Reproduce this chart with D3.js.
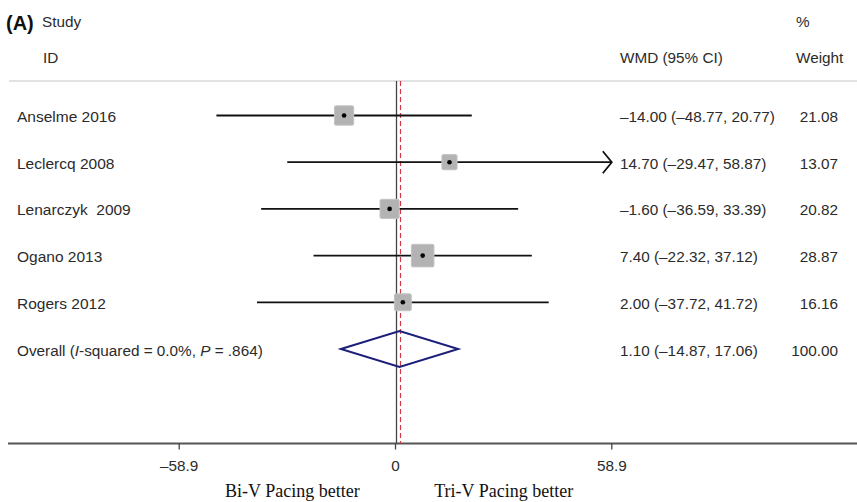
<!DOCTYPE html>
<html>
<head>
<meta charset="utf-8">
<script src="https://cdn.jsdelivr.net/npm/d3@7"></script>
<style>
  body { margin: 0; background: #fff; }
  svg text { font-family: "Liberation Sans", Arial, sans-serif; fill: #2b2b2b; }
</style>
</head>
<body>
<div id="chart"></div>
<script>
// study rows
var studies = ["Anselme 2016", "Leclercq 2008", "Lenarczyk  2009", "Ogano 2013", "Rogers 2012"];
var wmd = [-14.00, 14.70, -1.60, 7.40, 2.00];
var ciLow = [-48.77, -29.47, -36.59, -22.32, -37.72];
var ciHigh = [20.77, 58.87, 33.39, 37.12, 41.72];
var weights = [21.08, 13.07, 20.82, 28.87, 16.16];

// pooled estimate
var overallWmd = 1.10, overallLow = -14.87, overallHigh = 17.06, overallWeight = 100.00;

var tickValues = [-58.9, 0, 58.9];
var sideLabels = ["Bi-V Pacing better", "Tri-V Pacing better"];

var width = 857, height = 502;

var svg = d3.select("#chart").append("svg")
  .attr("width", width)
  .attr("height", height);

var x = d3.scaleLinear().domain([-58.9, 58.9]).range([179.2, 611.8]);
var y = d3.scaleLinear().domain([0, 5]).range([115.5, 349]);
var side = d3.scaleSqrt().domain([0, 100]).range([0, 42]);

var fmt = function (v) { return d3.format(".2f")(v).replace("\u2212", "\u2013"); };

// header
svg.append("text").attr("x", 6).attr("y", 29.5).style("font-size", "20px")
  .style("font-weight", "bold").style("fill", "#111").text("(A)");
svg.append("text").attr("x", 42).attr("y", 27).style("font-size", "15.3px").text("Study");
svg.append("text").attr("x", 43).attr("y", 62.5).style("font-size", "15.3px").text("ID");
svg.append("text").attr("x", 620).attr("y", 62.5).style("font-size", "15.3px").text("WMD (95% CI)");
svg.append("text").attr("x", 796).attr("y", 27).style("font-size", "15.3px").text("%");
svg.append("text").attr("x", 796).attr("y", 62.5).style("font-size", "15.3px").text("Weight");

// top rule and axis line
svg.append("line").attr("x1", 9).attr("x2", width).attr("y1", 81).attr("y2", 81)
  .attr("stroke", "#d8d8d8").attr("stroke-width", 1.5);

var axisY = 443.5;
svg.append("line").attr("x1", 8).attr("x2", width).attr("y1", axisY).attr("y2", axisY)
  .attr("stroke", "#555").attr("stroke-width", 2);

// reference lines
var x0 = Math.round(x(0)) + 0.5, xo = Math.round(x(overallWmd)) + 0.5;
svg.append("line").attr("x1", x0).attr("x2", x0).attr("y1", 81).attr("y2", axisY)
  .attr("stroke", "#444").attr("stroke-width", 1.3);
svg.append("line").attr("x1", xo).attr("x2", xo).attr("y1", 81).attr("y2", axisY)
  .attr("stroke", "#d03a48").attr("stroke-width", 1.2).attr("stroke-dasharray", "5,3");

// ticks
var ticks = svg.append("g");
ticks.selectAll("line").data(tickValues).enter().append("line")
  .attr("x1", function (d) { return x(d); })
  .attr("x2", function (d) { return x(d); })
  .attr("y1", axisY).attr("y2", axisY + 6)
  .attr("stroke", "#444").attr("stroke-width", 1.3);
ticks.selectAll("text").data(tickValues).enter().append("text")
  .attr("x", function (d) { return x(d); })
  .attr("y", 470.5)
  .attr("text-anchor", "middle")
  .style("font-size", "15.3px")
  .text(function (d) { return d === 0 ? "0" : fmt(d).replace(/0$/, ""); });

svg.selectAll(".side").data(sideLabels).enter().append("text")
  .attr("class", "side")
  .attr("x", function (d, i) { return i === 0 ? x(-29.45) + 5 : x(29.45); })
  .attr("y", 497)
  .attr("text-anchor", "middle")
  .style("font-family", "'Liberation Serif', 'Times New Roman', serif")
  .style("font-size", "18px")
  .style("fill", "#111")
  .text(function (d) { return d; });

// study rows
var rows = svg.selectAll(".row").data(studies).enter().append("g").attr("class", "row");

rows.append("text")
  .attr("x", 17).attr("y", function (d, i) { return y(i) + 6.5; })
  .style("font-size", "15.5px").style("white-space", "pre")
  .text(function (d) { return d; });

rows.append("line")
  .attr("x1", function (d, i) { return x(ciLow[i]); })
  .attr("x2", function (d, i) { return x(ciHigh[i]); })
  .attr("y1", function (d, i) { return y(i); })
  .attr("y2", function (d, i) { return y(i); })
  .attr("stroke", "#111").attr("stroke-width", 1.8);

// arrow where the interval reaches the axis edge
rows.filter(function (d, i) { return ciHigh[i] >= 58.8; })
  .append("path")
  .attr("d", function (d) {
    var i = studies.indexOf(d), xe = x(58.9), yy = y(i);
    return "M" + (xe - 9) + "," + (yy - 11) + "L" + xe + "," + yy + "L" + (xe - 9) + "," + (yy + 11);
  })
  .attr("fill", "none").attr("stroke", "#111").attr("stroke-width", 1.8);

rows.append("rect")
  .attr("x", function (d, i) { return x(wmd[i]) - side(weights[i]) / 2; })
  .attr("y", function (d, i) { return y(i) - side(weights[i]) / 2; })
  .attr("width", function (d, i) { return side(weights[i]); })
  .attr("height", function (d, i) { return side(weights[i]); })
  .attr("rx", 1.5)
  .attr("fill", "#b3b3b3").attr("stroke", "#c4c4c4").attr("stroke-width", 1);

rows.append("circle")
  .attr("cx", function (d, i) { return x(wmd[i]); })
  .attr("cy", function (d, i) { return y(i); })
  .attr("r", 2.3).attr("fill", "#000");

rows.append("text")
  .attr("x", 620).attr("y", function (d, i) { return y(i) + 6.5; })
  .style("font-size", "15.3px")
  .text(function (d, i) { return fmt(wmd[i]) + " (" + fmt(ciLow[i]) + ", " + fmt(ciHigh[i]) + ")"; });

rows.append("text")
  .attr("x", 838).attr("y", function (d, i) { return y(i) + 6.5; })
  .attr("text-anchor", "end")
  .style("font-size", "15.3px")
  .text(function (d, i) { return fmt(weights[i]); });

// overall row
var oy = y(5);
var ov = svg.append("text").attr("x", 17).attr("y", oy + 6.5).style("font-size", "15.3px");
ov.append("tspan").text("Overall (");
ov.append("tspan").style("font-style", "italic").text("I");
ov.append("tspan").text("-squared = 0.0%, ");
ov.append("tspan").style("font-style", "italic").text("P");
ov.append("tspan").text(" = .864)");

svg.append("path")
  .attr("d", "M" + x(overallLow) + "," + oy + "L" + x(overallWmd) + "," + (oy - 18) +
    "L" + x(overallHigh) + "," + oy + "L" + x(overallWmd) + "," + (oy + 18) + "Z")
  .attr("fill", "none").attr("stroke", "#1c1f7a").attr("stroke-width", 2);

svg.append("text").attr("x", 620).attr("y", oy + 6.5).style("font-size", "15.3px")
  .text(fmt(overallWmd) + " (" + fmt(overallLow) + ", " + fmt(overallHigh) + ")");
svg.append("text").attr("x", 838).attr("y", oy + 6.5).attr("text-anchor", "end")
  .style("font-size", "15.3px").text(fmt(overallWeight));
</script>
</body>
</html>
